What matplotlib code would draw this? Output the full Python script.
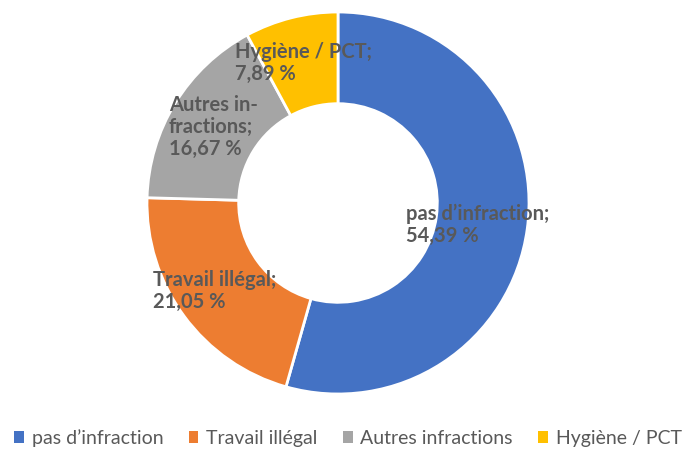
import matplotlib
matplotlib.use("Agg")
import matplotlib.pyplot as plt
from matplotlib.patches import Patch

categories = ["pas d\u2019infraction", "Travail illégal", "Autres infractions", "Hygiène / PCT"]
values = [54.39, 21.05, 16.67, 7.89]
label_texts = ["pas d\u2019infraction;\n54,39 %", "Travail illégal;\n21,05 %",
               "Autres in-\nfractions;\n16,67 %", "Hygiène / PCT;\n7,89 %"]
colors = ["#4472C4", "#ED7D31", "#A5A5A5", "#FFC000"]

plt.rcParams['font.family'] = ['Lato', 'DejaVu Sans']

W, H = 689, 450
fig = plt.figure(figsize=(W/100, H/100), dpi=100)
cx, cy, r = 338, 203, 191
ax = fig.add_axes([(cx - r)/W, (H - cy - r)/H, 2*r/W, 2*r/H])
ax.pie(values, colors=colors, startangle=90, counterclock=False, radius=1.0,
       wedgeprops=dict(width=0.48, edgecolor="white", linewidth=2))
ax.set_xlim(-1, 1)
ax.set_ylim(-1, 1)
ax.set_aspect('equal')
ax.axis('off')

label_px = [(406, 225), (153, 291), (169, 127), (235, 63)]
for txt, (px, py) in zip(label_texts, label_px):
    ax.text((px - cx)/r, (cy - py)/r, txt, ha='left', va='center', fontsize=14.5,
            fontweight='bold', color='#595959', linespacing=1.1)

handles = [Patch(facecolor=c, edgecolor='none') for c in colors]
fig.legend(handles, categories, loc='center', bbox_to_anchor=(0.505, (H - 438)/H), ncol=4,
           frameon=False, fontsize=14, handlelength=0.5, handleheight=0.5,
           handletextpad=0.4, columnspacing=1.3, labelcolor='#595959')

fig.savefig("out.png", dpi=100)
